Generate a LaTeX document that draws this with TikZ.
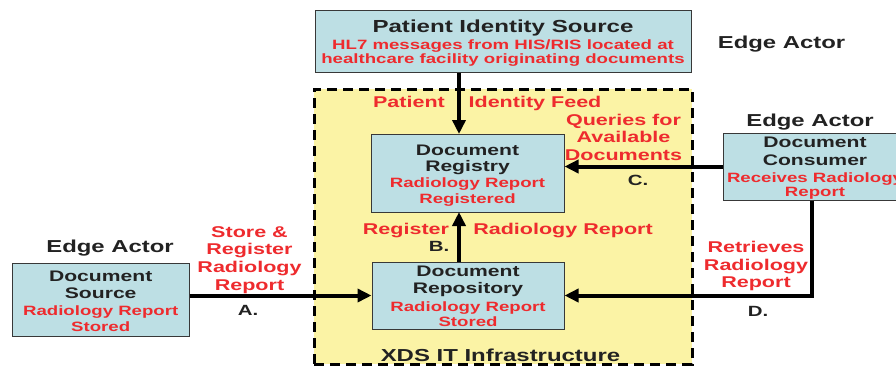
\documentclass[tikz,border=0pt]{standalone}
\usepackage{fontspec}
\setmainfont{Liberation Sans}[FakeStretch=1.38]
\usetikzlibrary{arrows.meta}
\definecolor{xred}{HTML}{EE2B2E}
\definecolor{xdark}{HTML}{222222}
\definecolor{boxblue}{HTML}{BDDFE4}
\definecolor{infrafill}{HTML}{FBF3A5}
\newcommand\fsz[1]{\fontsize{#1}{#1}\selectfont\bfseries}
\begin{document}
\begin{tikzpicture}[x=1pt,y=-1pt,
  box/.style={draw=xdark!90, line width=1pt, fill=boxblue, inner sep=0},
  ttl/.style={anchor=base, font=\fsz{15.3}, text=xdark, inner sep=0},
  sub/.style={anchor=base, font=\fsz{13.5}, text=xred, inner sep=0},
  lbl/.style={anchor=base, font=\fsz{15.6}, text=xred, inner sep=0},
  letter/.style={anchor=base, font=\fsz{14.8}, text=xdark, inner sep=0},
  edgeactor/.style={anchor=base, font=\fsz{17.3}, text=xdark, inner sep=0},
  conn/.style={line width=4pt, -{Triangle[length=14pt,width=13pt]}},
]
\useasboundingbox (0,0) rectangle (896,368);
\clip (0,0) rectangle (896,368);

% infrastructure region
\node[draw=black, fill=infrafill, line width=3pt, dash pattern=on 10pt off 6pt,
  minimum width=378, minimum height=275, inner sep=0] (infra) at (503,226.5) {};

% boxes
\node[box, minimum width=376, minimum height=62] (pis) at (503,41) {};
\node[box, minimum width=193, minimum height=78] (reg) at (467.5,173) {};
\node[box, minimum width=192, minimum height=67] (rep) at (468,295.5) {};
\node[box, minimum width=177, minimum height=73] (src) at (100.5,299.5) {};
\node[box, minimum width=184, minimum height=67] (con) at (815,166.5) {};

% connectors
\coordinate (rx) at (459,134);
\coordinate (bx) at (459,212);
\coordinate (dc) at (812,295.5);
\draw[conn] (pis.south -| rx) -- (rx);
\draw[conn] (rep.north -| bx) -- (bx);
\draw[conn] (con.west) -- (con.west -| reg.east);
\draw[conn] (rep.west -| src.east) -- (rep.west);
\draw[conn, line join=miter] (con.south -| dc) -- (dc) -- (rep.east);

% box texts
\node[ttl, font=\fsz{17.45}] (pist) at (503,32) {Patient Identity Source};
\node[sub] (pis1) at (503,49) {HL7 messages from HIS/RIS located at};
\node[sub] (pis2) at (503,63) {healthcare facility originating documents};

\node[ttl] (reg1) at (467.5,155) {Document};
\node[ttl] (reg2) at (467.5,171.5) {Registry};
\node[sub] (reg3) at (467.5,187.5) {Radiology Report};
\node[sub] (reg4) at (467.5,203) {Registered};

\node[ttl] (rep1) at (468,276) {Document};
\node[ttl] (rep2) at (468,293.5) {Repository};
\node[sub] (rep3) at (468,311) {Radiology Report};
\node[sub] (rep4) at (468,326.5) {Stored};

\node[ttl] (src1) at (100.7,281) {Document};
\node[ttl] (src2) at (100.7,298) {Source};
\node[sub] (src3) at (100.7,315) {Radiology Report};
\node[sub] (src4) at (100.7,331) {Stored};

\node[ttl] (con1) at (815,147) {Document};
\node[ttl] (con2) at (815,165) {Consumer};
\node[sub] (con3) at (815,182) {Receives Radiology};
\node[sub] (con4) at (815,196.5) {Report};

% edge actor labels
\node[edgeactor] (ea1) at (781.5,48) {Edge Actor};
\node[edgeactor] (ea2) at (810,126) {Edge Actor};
\node[edgeactor] (ea3) at (110,252) {Edge Actor};

% connector labels
\node[lbl] (pf1) at (409,107) {Patient};
\node[lbl] (pf2) at (535,107) {Identity Feed};

\node[lbl] (q1) at (623.5,125) {Queries for};
\node[lbl] (q2) at (623.5,142.7) {Available};
\node[lbl] (q3) at (623.5,160.5) {Documents};
\node[letter] (lc) at (638,185) {C.};

\node[lbl] (rr1) at (406,234) {Register};
\node[lbl] (rr2) at (563,234) {Radiology Report};
\node[letter] (lb) at (439,251) {B.};

\node[lbl] (s1) at (249.5,237) {Store \&};
\node[lbl] (s2) at (249.5,254.5) {Register};
\node[lbl] (s3) at (249.5,272.5) {Radiology};
\node[lbl] (s4) at (249.5,290) {Report};
\node[letter] (la) at (248,315) {A.};

\node[lbl] (t1) at (756,252) {Retrieves};
\node[lbl] (t2) at (756,270) {Radiology};
\node[lbl] (t3) at (756,287.5) {Report};
\node[letter] (ld) at (758,316.5) {D.};

\node[ttl, font=\fsz{17.35}] (xds) at (500.5,361.5) {XDS IT Infrastructure};
\end{tikzpicture}
\end{document}
